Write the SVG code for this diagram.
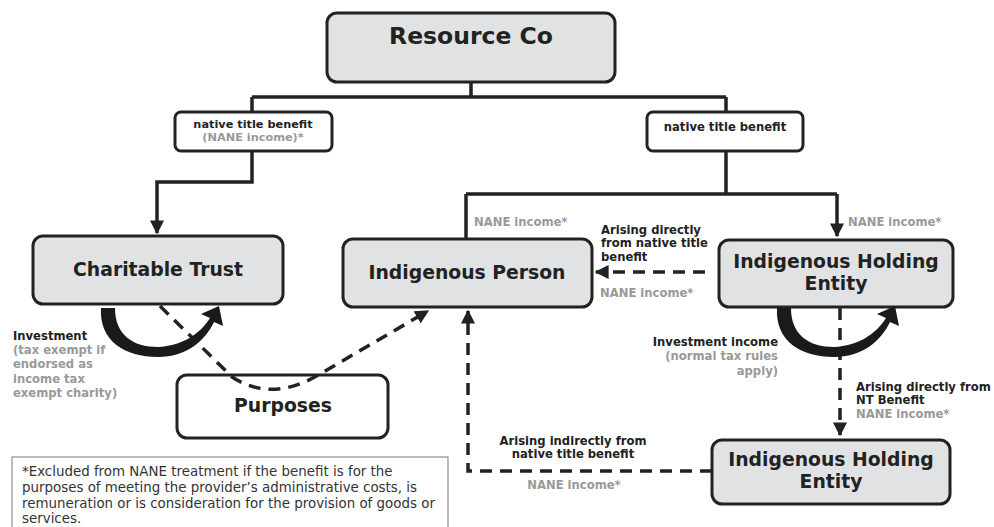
<svg xmlns="http://www.w3.org/2000/svg" width="994" height="527" viewBox="0 0 994 527">
<defs>
<style>
.box{fill:#e1e2e4;stroke:#222;stroke-width:3}
.wbox{fill:#fff;stroke:#222;stroke-width:3}
.ln{fill:none;stroke:#222;stroke-width:3.5}
.dash{fill:none;stroke:#222;stroke-width:3.5;stroke-dasharray:12 8}
.t{font-family:"DejaVu Sans",Verdana,sans-serif;font-weight:bold;fill:#222}
.big{font-size:18.8px;text-anchor:middle}
.lbl{font-size:11.6px}
.g{fill:#999}
.note{font-family:"DejaVu Sans",Verdana,sans-serif;font-size:13.4px;fill:#333}
</style>
<marker id="ah" viewBox="0 0 10 10" refX="9" refY="5" markerWidth="4" markerHeight="4" orient="auto" markerUnits="strokeWidth">
<path d="M0,0 L10,5 L0,10 Z" fill="#222"/>
</marker>
<path id="loop" d="M101,308 C99,341 125,357 158,357 C186,357 205,341 214,322 L223,326 L219,306 L201,314 L210,318 C200,334 182,346 158,347 C133,347 115,335 115,308 Z" fill="#1a1a1a"/>
</defs>

<g id="resource-co">
<rect class="box" x="327" y="13" width="288" height="69" rx="10"/>
<text class="t" x="471" y="44" font-size="23.5" text-anchor="middle">Resource Co</text>
</g>

<g id="ntb-left">
<rect class="wbox" x="175" y="112" width="157" height="39" rx="6"/>
<text class="t" x="253" y="128" font-size="11.3" text-anchor="middle">native title benefit</text>
<text class="t g" x="253" y="141" font-size="11.3" text-anchor="middle">(NANE income)*</text>
</g>

<g id="ntb-right">
<rect class="wbox" x="647" y="112" width="156" height="39" rx="6"/>
<text class="t lbl" x="725" y="131" text-anchor="middle">native title benefit</text>
</g>

<g id="charitable-trust">
<rect class="box" x="33" y="236" width="250" height="68" rx="10"/>
<text class="t big" x="158" y="276">Charitable Trust</text>
</g>

<g id="indigenous-person">
<rect class="box" x="343" y="239" width="249" height="68" rx="10"/>
<text class="t big" x="467" y="279">Indigenous Person</text>
</g>

<g id="holding-entity-1">
<rect class="box" x="719" y="240" width="234" height="67" rx="10"/>
<text class="t big" x="836" y="268">Indigenous Holding</text>
<text class="t big" x="836" y="290">Entity</text>
</g>

<g id="holding-entity-2">
<rect class="box" x="712" y="440" width="238" height="64" rx="10"/>
<text class="t big" x="831" y="466">Indigenous Holding</text>
<text class="t big" x="831" y="488">Entity</text>
</g>

<g id="purposes">
<rect class="wbox" x="177" y="375" width="211" height="63" rx="10"/>
<text class="t big" x="283" y="412">Purposes</text>
</g>

<g id="connectors">
<path class="ln" d="M471,82 V97 M252,97 H726 M252,97 V112 M726,97 V112"/>
<path class="ln" d="M252,151 V182 H157 V233" marker-end="url(#ah)"/>
<path class="ln" d="M726,151 V194 M466,194 H837 M466,194 V239"/>
<path class="ln" d="M837,194 V236" marker-end="url(#ah)"/>
<path class="dash" d="M705,272 H596" marker-end="url(#ah)"/>
<path class="dash" d="M840,308 V435" marker-end="url(#ah)"/>
<path class="dash" d="M712,471 H468 V311" marker-end="url(#ah)"/>
<path class="dash" d="M160,306 L232,377 Q272,403 320,374 L428,311" marker-end="url(#ah)"/>
<use href="#loop"/>
<use href="#loop" transform="translate(676,0)"/>
</g>

<g id="labels">
<text class="t lbl g" x="474" y="226">NANE income*</text>
<text class="t lbl g" x="848" y="226">NANE income*</text>
<text class="t lbl" x="601" y="234">Arising directly</text>
<text class="t lbl" x="601" y="247">from native title</text>
<text class="t lbl" x="601" y="261">benefit</text>
<text class="t lbl g" x="600" y="297">NANE income*</text>
<text class="t lbl" x="13" y="340">Investment</text>
<text class="t lbl g" x="13" y="354">(tax exempt if</text>
<text class="t lbl g" x="13" y="368">endorsed as</text>
<text class="t lbl g" x="13" y="383">income tax</text>
<text class="t lbl g" x="13" y="397">exempt charity)</text>
<text class="t lbl" x="778" y="346" text-anchor="end">Investment income</text>
<text class="t lbl g" x="778" y="360" text-anchor="end">(normal tax rules</text>
<text class="t lbl g" x="778" y="375" text-anchor="end">apply)</text>
<text class="t lbl" x="856" y="391">Arising directly from</text>
<text class="t lbl" x="856" y="404">NT Benefit</text>
<text class="t lbl g" x="856" y="418">NANE income*</text>
<text class="t lbl" x="573" y="445" text-anchor="middle">Arising indirectly from</text>
<text class="t lbl" x="573" y="458" text-anchor="middle">native title benefit</text>
<text class="t lbl g" x="574" y="489" text-anchor="middle">NANE income*</text>
</g>

<g id="footnote">
<rect x="12" y="457" width="436" height="80" fill="#fff" stroke="#777" stroke-width="1"/>
<text class="note" x="22" y="476">*Excluded from NANE treatment if the benefit is for the</text>
<text class="note" x="22" y="492">purposes of meeting the provider’s administrative costs, is</text>
<text class="note" x="22" y="508">remuneration or is consideration for the provision of goods or</text>
<text class="note" x="22" y="523">services.</text>
</g>
</svg>
